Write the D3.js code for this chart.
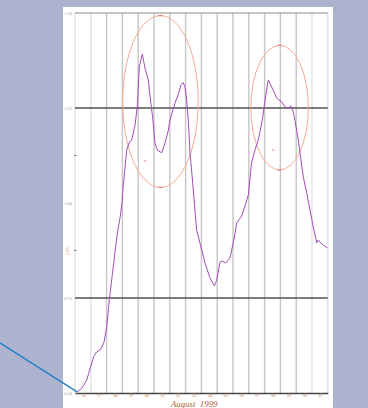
<!DOCTYPE html>
<html>
<head>
<meta charset="utf-8">
<script src="https://d3js.org/d3.v7.min.js"></script>
<style>
	body { margin: 0; background: #adb3cf; }
	svg { display: block; }
</style>
</head>
<body>
<div id="chart"></div>
<script>
// Data: day of August 1999 and reading
const days = [16.13, 16.44, 16.74, 16.89, 17.06, 17.2, 17.37, 17.58, 17.71, 17.84,
	18.01, 18.17, 18.42, 18.68, 18.85, 18.96, 19.06, 19.27, 19.42, 19.59,
	19.8, 19.94, 20.07, 20.26, 20.43, 20.64, 20.75, 20.92, 21.06, 21.21,
	21.49, 21.7, 21.91, 22.01, 22.33, 22.52, 22.71, 22.85, 22.96, 23.07,
	23.17, 23.28, 23.45, 23.6, 23.7, 24.02, 24.23, 24.54, 24.82, 24.97,
	25.18, 25.32, 25.54, 25.81, 26.08, 26.23, 26.55, 26.76, 26.97, 27.18,
	27.39, 27.6, 27.82, 27.92, 28.03, 28.23, 28.45, 28.77, 29.08, 29.29,
	29.5, 29.67, 29.82, 29.92, 30.13, 30.24, 30.45, 30.67, 30.87, 31.08,
	31.3, 31.4, 31.51, 31.72, 31.97];
const values = [0.503, 0.513, 0.534, 0.555, 0.579, 0.597, 0.608, 0.613, 0.621, 0.634,
	0.674, 0.745, 0.832, 0.921, 0.961, 0.995, 1.047, 1.139, 1.158, 1.166,
	1.205, 1.253, 1.358, 1.392, 1.355, 1.324, 1.279, 1.224, 1.158, 1.139,
	1.132, 1.158, 1.192, 1.218, 1.263, 1.284, 1.311, 1.317, 1.305, 1.271,
	1.218, 1.132, 1.053, 0.976, 0.929, 0.876, 0.842, 0.803, 0.782, 0.797,
	0.845, 0.847, 0.842, 0.855, 0.908, 0.947, 0.966, 0.992, 1.021, 1.108,
	1.139, 1.166, 1.211, 1.237, 1.271, 1.324, 1.305, 1.276, 1.266, 1.253,
	1.25, 1.255, 1.239, 1.218, 1.166, 1.132, 1.068, 1.026, 0.982, 0.937,
	0.895, 0.903, 0.897, 0.889, 0.882];

const dayLabels = d3.range(16, 32);
const yTicks = [1.50, 1.25, 1.00, 0.75, 0.50];
const yMinorTicks = [1.125, 0.875];
const boldLevels = [1.25, 0.75];

// Ellipses drawn round the two peaks: [centre day, centre value, radius days, radius value]
const circles = [
	[21.41, 1.267, 2.39, 0.226],
	[28.95, 1.251, 1.82, 0.164]
];
const marks = [[20.43, 1.108], [28.53, 1.137]];

// Pointer from outside the frame to the first reading
const pointerFrom = [11.25, 0.632];

const svgWidth = 368;
const svgHeight = 408;

const margin = { top: 13, right: 40, bottom: 15, left: 75 };

const svg = d3.select("#chart")
	.append("svg")
	.attr("width", svgWidth)
	.attr("height", svgHeight);

// white sheet
svg.append("rect")
	.attr("x", 63)
	.attr("y", 7)
	.attr("width", 270)
	.attr("height", svgHeight)
	.attr("fill", "#ffffff");

const x = d3.scaleLinear()
	.domain([16, 32])
	.range([margin.left, 327.8]);

const y = d3.scaleLinear()
	.domain([0.5, 1.5])
	.range([svgHeight - margin.bottom, margin.top]);

// vertical day lines
svg.append("g")
	.selectAll("line")
	.data(d3.range(16, 33))
	.enter()
	.append("line")
	.attr("x1", d => x(d))
	.attr("x2", d => x(d))
	.attr("y1", y(1.5))
	.attr("y2", y(0.5))
	.attr("stroke", d => (d <= 17 || d >= 31) ? "#e2e2e2" : "#c6c6c6")
	.attr("stroke-width", 1.4);

// top frame line
svg.append("line")
	.attr("x1", x(16)).attr("x2", x(32))
	.attr("y1", y(1.5)).attr("y2", y(1.5))
	.attr("stroke", "#8a8a8a")
	.attr("stroke-width", 1);

// heavy level lines
svg.append("g")
	.selectAll("line")
	.data(boldLevels)
	.enter()
	.append("line")
	.attr("x1", x(16)).attr("x2", x(32))
	.attr("y1", d => y(d)).attr("y2", d => y(d))
	.attr("stroke", "#505050")
	.attr("stroke-width", 1.3);

// bottom axis
const bottomAxis = d3.axisBottom(x)
	.tickValues(dayLabels.map(d => d + 0.5))
	.tickFormat(d => Math.floor(d))
	.tickSize(2)
	.tickSizeOuter(0);

const xAxis = svg.append("g")
	.attr("transform", `translate(0, ${y(0.5)})`)
	.call(bottomAxis);

xAxis.select(".domain")
	.attr("stroke", "#444")
	.attr("stroke-width", 1.4);
xAxis.selectAll(".tick line").attr("stroke", "#c9a080").attr("stroke-width", 0.6);
xAxis.selectAll(".tick text")
	.attr("y", 1.5)
	.attr("fill", "#b8764a")
	.attr("font-family", "Liberation Serif")
	.attr("font-size", 4.2);

// left labels
svg.append("g")
	.selectAll("text")
	.data(yTicks)
	.enter()
	.append("text")
	.attr("x", 72)
	.attr("y", d => y(d) + 1.5)
	.attr("text-anchor", "end")
	.attr("fill", "#9a9a9a")
	.attr("font-family", "Liberation Serif")
	.attr("font-size", 4.5)
	.text(d => d.toFixed(2));

svg.append("g")
	.selectAll("line")
	.data(yMinorTicks)
	.enter()
	.append("line")
	.attr("x1", 74).attr("x2", 76.5)
	.attr("y1", d => y(d)).attr("y2", d => y(d))
	.attr("stroke", "#666")
	.attr("stroke-width", 0.8);

svg.append("text")
	.attr("transform", `translate(69, ${y(0.875)}) rotate(-90)`)
	.attr("text-anchor", "middle")
	.attr("fill", "#d9a27e")
	.attr("font-family", "Liberation Serif")
	.attr("font-size", 4)
	.text("0.875");

// ellipses
svg.append("g")
	.selectAll("ellipse")
	.data(circles)
	.enter()
	.append("ellipse")
	.attr("cx", d => x(d[0]))
	.attr("cy", d => y(d[1]))
	.attr("rx", d => x(d[0] + d[2]) - x(d[0]))
	.attr("ry", d => y(d[1]) - y(d[1] + d[3]))
	.attr("fill", "none")
	.attr("stroke", "#f6ab90")
	.attr("stroke-width", 1);

// small handles at top and bottom of each ellipse
const handles = [];
circles.forEach(c => {
	handles.push([c[0], c[1] + c[3]]);
	handles.push([c[0], c[1] - c[3]]);
});
svg.append("g")
	.selectAll("line")
	.data(handles)
	.enter()
	.append("line")
	.attr("x1", d => x(d[0]) - 2).attr("x2", d => x(d[0]) + 2)
	.attr("y1", d => y(d[1])).attr("y2", d => y(d[1]))
	.attr("stroke", "#e8706a")
	.attr("stroke-width", 1);

svg.append("g")
	.selectAll("text")
	.data(marks)
	.enter()
	.append("text")
	.attr("x", d => x(d[0]))
	.attr("y", d => y(d[1]))
	.attr("text-anchor", "middle")
	.attr("fill", "#e0907a")
	.attr("font-family", "Liberation Serif")
	.attr("font-size", 5)
	.text("ø");

// the reading
const line = d3.line()
	.x(d => x(d[0]))
	.y(d => y(d[1]));

svg.append("path")
	.datum(days.map((d, i) => [d, values[i]]))
	.attr("d", line)
	.attr("fill", "none")
	.attr("stroke", "#a04fb4")
	.attr("stroke-width", 1)
	.attr("stroke-linejoin", "round");

// blue pointer
svg.append("line")
	.attr("x1", x(pointerFrom[0]))
	.attr("y1", y(pointerFrom[1]))
	.attr("x2", x(days[0]))
	.attr("y2", y(values[0]))
	.attr("stroke", "#1f7ec6")
	.attr("stroke-width", 1.3);

// month title
svg.append("text")
	.attr("x", 171)
	.attr("y", 406.5)
	.attr("fill", "#b0622e")
	.attr("font-family", "Liberation Serif")
	.attr("font-style", "italic")
	.attr("font-size", 8.8)
	.attr("xml:space", "preserve")
	.text("August  1999");
</script>
</body>
</html>
